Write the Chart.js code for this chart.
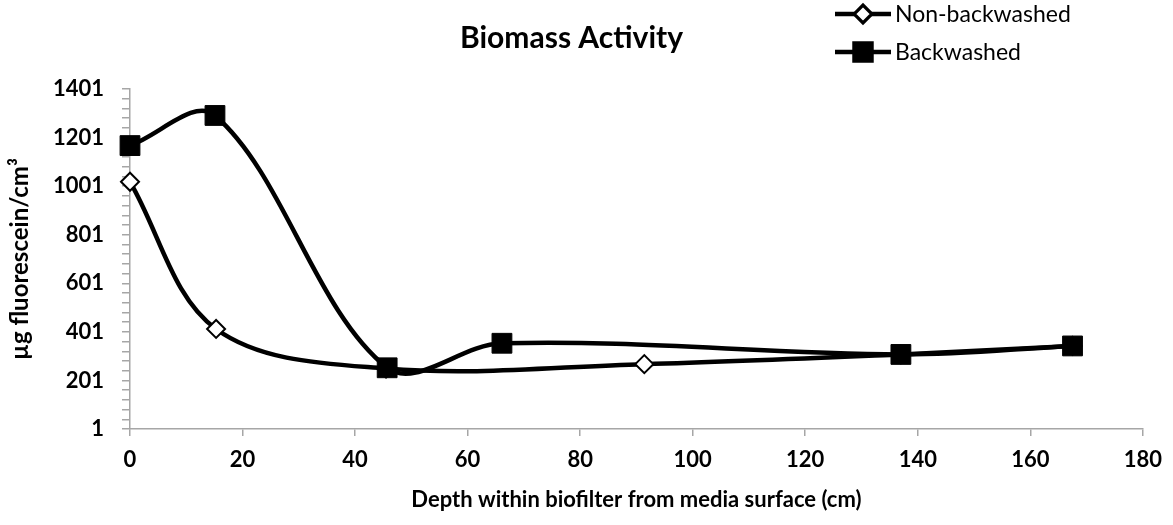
<!DOCTYPE html>
<html>
<head>
<meta charset="utf-8">
<script src="https://cdn.jsdelivr.net/npm/chart.js@4.4.1/dist/chart.umd.min.js"></script>
<style>
  html, body { margin: 0; padding: 0; background: #fff; }
  #wrap { width: 1173px; height: 525px; }
</style>
</head>
<body>
<div id="wrap"><canvas id="chart"></canvas></div>
<script>
// ------------------------
// DATA
// ------------------------

const seriesNames = ["Non-backwashed", "Backwashed"];

// depth (cm) / µg fluorescein per cm3
const nonBackwashedDepth = [0, 15.3, 45.5, 91.4, 137, 167.5];
const nonBackwashedValue = [1019, 413, 250, 268, 308, 343];

const backwashedDepth = [0, 15.1, 45.7, 66.1, 137, 167.5];
const backwashedValue = [1168, 1292, 253, 354, 308, 343];

const xTicks = [0, 20, 40, 60, 80, 100, 120, 140, 160, 180];
const yMajorTicks = [1, 201, 401, 601, 801, 1001, 1201, 1401];
const yMinorStep = 40;

const FONT = "Lato, 'Open Sans', sans-serif";
const AXIS_GRAY = "#a6a6a6";

function toPoints(xs, ys) {
    return xs.map((x, i) => ({ x, y: ys[i] }));
}

// ------------------------
// LEGEND (line + marker, top right)
// ------------------------

const sideLegend = {
    id: "sideLegend",
    afterDraw(chart) {
        const ctx = chart.ctx;
        const items = [
            { ds: chart.data.datasets[0], y: 14 },
            { ds: chart.data.datasets[1], y: 52 }
        ];
        ctx.save();
        items.forEach(({ ds, y }) => {
            const x0 = 835, x1 = 891;
            ctx.strokeStyle = "#000";
            ctx.lineWidth = 4.5;
            ctx.beginPath();
            ctx.moveTo(x0, y);
            ctx.lineTo(x1, y);
            ctx.stroke();
            Chart.helpers.drawPoint(ctx, {
                pointStyle: ds.pointStyle,
                radius: ds.legendRadius,
                borderWidth: ds.pointBorderWidth
            }, (x0 + x1) / 2, y);
            ctx.fillStyle = ds.pointBackgroundColor;
            ctx.strokeStyle = "#000";
            ctx.lineWidth = ds.pointBorderWidth;
            ctx.fill();
            ctx.stroke();
            ctx.fillStyle = "#000";
            ctx.font = "23px " + FONT;
            ctx.textBaseline = "middle";
            ctx.textAlign = "left";
            ctx.fillText(ds.label, x1 + 4, y + 1);
        });
        ctx.restore();
    }
};

// ------------------------
// CHART
// ------------------------

new Chart(document.getElementById("chart"), {
    type: "scatter",
    data: {
        datasets: [
            {
                label: seriesNames[0],
                data: toPoints(nonBackwashedDepth, nonBackwashedValue),
                showLine: true,
                borderColor: "#000",
                borderWidth: 4.5,
                tension: 0.35,
                pointStyle: "rectRot",
                pointRadius: 9,
                legendRadius: 8,
                pointBorderWidth: 2,
                pointBackgroundColor: "#fff",
                pointBorderColor: "#000",
                clip: false,
                order: 1
            },
            {
                label: seriesNames[1],
                data: toPoints(backwashedDepth, backwashedValue),
                showLine: true,
                borderColor: "#000",
                borderWidth: 4.5,
                tension: 0.35,
                pointStyle: "rect",
                pointRadius: 14,
                legendRadius: 12,
                pointBorderWidth: 1,
                pointBackgroundColor: "#000",
                pointBorderColor: "#000",
                clip: false,
                order: 0
            }
        ]
    },
    options: {
        responsive: true,
        maintainAspectRatio: false,
        animation: false,
        events: [],
        layout: { padding: { top: 0, right: 30, bottom: 0, left: 0 } },
        elements: { line: { capBezierPoints: false } },
        plugins: {
            legend: { display: false },
            tooltip: { enabled: false },
            title: {
                display: true,
                text: "Biomass Activity",
                color: "#000",
                font: { family: FONT, size: 30, weight: "bold" },
                padding: { top: 20, bottom: 33 }
            }
        },
        scales: {
            x: {
                type: "linear",
                min: 0,
                max: 180,
                afterBuildTicks: s => { s.ticks = xTicks.map(v => ({ value: v })); },
                afterFit: s => { s.height = 96; },
                border: { color: AXIS_GRAY, width: 1.5 },
                grid: { drawOnChartArea: false, tickLength: 7, color: AXIS_GRAY, lineWidth: 1.5 },
                ticks: {
                    color: "#000",
                    padding: 11,
                    maxRotation: 0,
                    autoSkip: false,
                    font: { family: FONT, size: 22, weight: "bold" }
                },
                title: {
                    display: true,
                    text: "Depth within biofilter from media surface (cm)",
                    color: "#000",
                    font: { family: FONT, size: 22, weight: "bold" },
                    padding: { top: 0, bottom: 12 }
                }
            },
            y: {
                type: "linear",
                min: 1,
                max: 1401,
                afterBuildTicks: s => {
                    const t = [];
                    for (let v = yMajorTicks[0]; v <= yMajorTicks[yMajorTicks.length - 1]; v += yMinorStep) t.push({ value: v });
                    s.ticks = t;
                },
                afterFit: s => { s.width = 130; },
                border: { color: AXIS_GRAY, width: 1.5 },
                grid: { drawOnChartArea: false, tickLength: 8, color: AXIS_GRAY, lineWidth: 1.5 },
                ticks: {
                    color: "#000",
                    padding: 18,
                    autoSkip: false,
                    font: { family: FONT, size: 22, weight: "bold" },
                    callback: v => yMajorTicks.includes(v) ? String(v) : ""
                },
                title: {
                    display: true,
                    text: "µg fluorescein/cm³",
                    color: "#000",
                    font: { family: FONT, size: 24, weight: "bold" },
                    padding: { top: 6, bottom: 0 }
                }
            }
        }
    },
    plugins: [sideLegend]
});
</script>
</body>
</html>
